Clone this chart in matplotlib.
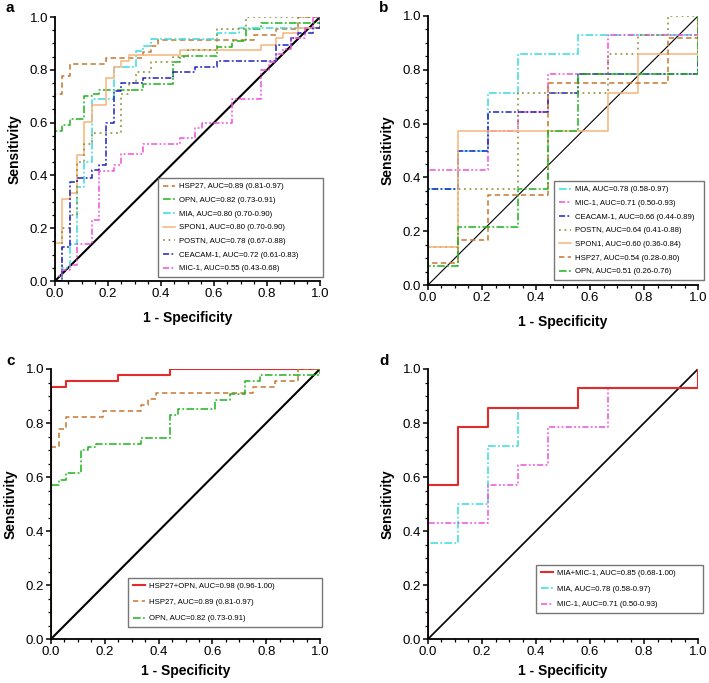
import matplotlib
matplotlib.use('Agg')
import matplotlib.pyplot as plt
from matplotlib.ticker import MultipleLocator

plt.rcParams['font.family'] = ['Liberation Sans', 'DejaVu Sans']

# ROC corner points (1 - specificity, sensitivity), drawn as post steps
# panel a / c (training set)
hsp27_x = [0, 0, 0.028, 0.056, 0.194, 0.333, 0.361, 0.389, 0.75, 0.833, 0.917, 1.0]
hsp27_y = [0, 0.71, 0.777, 0.823, 0.844, 0.866, 0.889, 0.911, 0.932, 0.955, 1.0, 1.0]
opn_x = [0, 0, 0.028, 0.056, 0.111, 0.139, 0.167, 0.333, 0.444, 0.472, 0.611, 0.667, 0.722, 0.778, 1.0]
opn_y = [0, 0.57, 0.59, 0.614, 0.70, 0.71, 0.722, 0.745, 0.83, 0.852, 0.886, 0.909, 0.955, 0.977, 1.0]
mia_x = [0, 0.028, 0.056, 0.083, 0.111, 0.139, 0.222, 0.306, 0.333, 0.361, 0.611, 0.694, 1.0]
mia_y = [0, 0.05, 0.14, 0.356, 0.45, 0.69, 0.81, 0.87, 0.89, 0.917, 0.94, 0.96, 1.0]
spon1_x = [0, 0, 0.028, 0.056, 0.083, 0.111, 0.139, 0.194, 0.222, 0.25, 0.278, 0.472, 0.778, 0.833, 0.861, 0.917, 1.0]
spon1_y = [0, 0.143, 0.312, 0.333, 0.479, 0.602, 0.665, 0.77, 0.81, 0.833, 0.855, 0.875, 0.895, 0.92, 0.94, 0.96, 1.0]
postn_x = [0, 0.028, 0.056, 0.083, 0.111, 0.139, 0.25, 0.278, 0.306, 0.361, 0.444, 0.5, 0.611, 0.722, 1.0]
postn_y = [0, 0.2, 0.25, 0.45, 0.52, 0.56, 0.71, 0.75, 0.79, 0.83, 0.85, 0.875, 0.955, 1.0, 1.0]
ceacam_x = [0, 0.028, 0.056, 0.083, 0.139, 0.167, 0.194, 0.222, 0.25, 0.333, 0.444, 0.528, 0.611, 0.833, 0.889, 0.917, 0.972, 1.0]
ceacam_y = [0, 0.13, 0.375, 0.39, 0.42, 0.44, 0.60, 0.72, 0.75, 0.77, 0.79, 0.81, 0.833, 0.895, 0.92, 0.94, 0.96, 1.0]
mic1_x = [0, 0, 0.028, 0.056, 0.083, 0.139, 0.167, 0.222, 0.25, 0.333, 0.472, 0.528, 0.556, 0.667, 0.778, 0.806, 0.833, 0.861, 0.889, 0.944, 0.972, 1.0]
mic1_y = [0, 0.02, 0.04, 0.06, 0.14, 0.23, 0.417, 0.44, 0.48, 0.52, 0.54, 0.58, 0.6, 0.69, 0.8, 0.83, 0.86, 0.88, 0.92, 0.96, 1.0, 1.0]
combo_c_x = [0, 0, 0.056, 0.25, 0.444, 1.0]
combo_c_y = [0, 0.932, 0.955, 0.977, 1.0, 1.0]

# panel b / d (validation set)
mia_b_x = [0, 0, 0.111, 0.222, 0.333, 0.556, 1.0]
mia_b_y = [0, 0.357, 0.5, 0.714, 0.857, 0.929, 1.0]
mic1_b_x = [0, 0, 0.222, 0.333, 0.444, 0.667, 1.0]
mic1_b_y = [0, 0.429, 0.571, 0.643, 0.786, 0.929, 1.0]
ceacam_b_x = [0, 0, 0.111, 0.222, 0.444, 0.556, 1.0]
ceacam_b_y = [0, 0.357, 0.5, 0.643, 0.714, 0.786, 1.0]
postn_b_x = [0, 0, 0.111, 0.333, 0.667, 0.778, 0.889, 1.0]
postn_b_y = [0, 0.143, 0.357, 0.714, 0.857, 0.929, 1.0, 1.0]
spon1_b_x = [0, 0, 0.111, 0.667, 0.778, 1.0]
spon1_b_y = [0, 0.143, 0.571, 0.714, 0.857, 1.0]
hsp27_b_x = [0, 0, 0.111, 0.222, 0.444, 0.889, 1.0]
hsp27_b_y = [0, 0.083, 0.167, 0.333, 0.75, 0.917, 1.0]
opn_b_x = [0, 0, 0.111, 0.333, 0.444, 0.556, 1.0]
opn_b_y = [0, 0.071, 0.214, 0.357, 0.571, 0.786, 1.0]
combo_d_x = [0, 0, 0.111, 0.222, 0.556, 1.0]
combo_d_y = [0, 0.571, 0.786, 0.857, 0.929, 1.0]

# styles
sty = {
    'HSP27': dict(color='#C8762E', dashes=(3.5, 2.2)),
    'OPN': dict(color='#1DB31D', dashes=(5, 1.5, 1.2, 1.5)),
    'MIA': dict(color='#38DDDD', dashes=(5, 1.5, 1.2, 1.5)),
    'SPON1': dict(color='#F6B479', linestyle='-'),
    'POSTN': dict(color='#8C8C2A', dashes=(1.2, 2.4)),
    'CEACAM-1': dict(color='#2020C0', dashes=(4, 1.5, 1.2, 1.5)),
    'MIC-1': dict(color='#F050D8', dashes=(4, 1.5, 1.2, 1.5, 1.2, 1.5)),
    'combo': dict(color='#E32B2B', linestyle='-'),
}

fig = plt.figure(figsize=(7.09, 6.83), dpi=100)
W, H = 709, 683


def make_ax(x0, x1, ytop, ybot, letter, lx, ly, xpad=8):
    ax = fig.add_axes([x0 / W, (H - ybot) / H, (x1 - x0) / W, (ybot - ytop) / H])
    ax.set_xlim(0, 1)
    ax.set_ylim(0, 1)
    for s in ['top', 'right']:
        ax.spines[s].set_visible(False)
    for s in ['left', 'bottom']:
        ax.spines[s].set_linewidth(1.3)
    ax.xaxis.set_major_locator(MultipleLocator(0.2))
    ax.yaxis.set_major_locator(MultipleLocator(0.2))
    ax.xaxis.set_minor_locator(MultipleLocator(0.05))
    ax.yaxis.set_minor_locator(MultipleLocator(0.05))
    ax.xaxis.set_major_formatter(plt.FormatStrFormatter('%.1f'))
    ax.yaxis.set_major_formatter(plt.FormatStrFormatter('%.1f'))
    ax.tick_params(which='major', direction='out', length=3.5, width=1.1, labelsize=9.5, pad=1.5)
    ax.tick_params(which='minor', direction='out', length=2, width=0.9)
    ax.set_xlabel('1 - Specificity', fontsize=10, fontweight='bold', labelpad=xpad)
    ax.set_ylabel('Sensitivity', fontsize=10, fontweight='bold', labelpad=6)
    fig.text(lx / W, 1 - ly / H, letter, fontsize=11, fontweight='bold', ha='center', va='center')
    return ax


def curve(ax, x, y, key, label, lw=1.1):
    ax.plot(x, y, drawstyle='steps-post', linewidth=lw, label=label, **sty[key])


def legend(ax, x0, y0, w, spacing, handles=None, labels=None):
    if handles is None:
        handles, labels = ax.get_legend_handles_labels()
    leg = ax.legend(handles, labels, loc='lower left', bbox_to_anchor=(x0, y0, w, 0.3),
                    mode='expand', fontsize=5.6, frameon=True, fancybox=False,
                    borderaxespad=0, handlelength=1.6, handletextpad=0.5,
                    labelspacing=spacing, borderpad=0.6)
    leg.get_frame().set_edgecolor('#555555')
    leg.get_frame().set_linewidth(1.0)


# panel a
ax = make_ax(55, 320, 17, 281, 'a', 10, 8)
ax.plot([0, 1], [0, 1], color='black', linewidth=1.5)
curve(ax, hsp27_x, hsp27_y, 'HSP27', 'HSP27, AUC=0.89 (0.81-0.97)')
curve(ax, opn_x, opn_y, 'OPN', 'OPN, AUC=0.82 (0.73-0.91)')
curve(ax, mia_x, mia_y, 'MIA', 'MIA, AUC=0.80 (0.70-0.90)')
curve(ax, spon1_x, spon1_y, 'SPON1', 'SPON1, AUC=0.80 (0.70-0.90)')
curve(ax, postn_x, postn_y, 'POSTN', 'POSTN, AUC=0.78 (0.67-0.88)')
curve(ax, ceacam_x, ceacam_y, 'CEACAM-1', 'CEACAM-1, AUC=0.72 (0.61-0.83)')
curve(ax, mic1_x, mic1_y, 'MIC-1', 'MIC-1, AUC=0.55 (0.43-0.68)')
legend(ax, 0.39, 0.015, 0.62, 0.8)

# panel b
ax = make_ax(428, 698, 16, 285, 'b', 384, 8)
ax.plot([0, 1], [0, 1], color='black', linewidth=0.8)
curve(ax, mia_b_x, mia_b_y, 'MIA', 'MIA, AUC=0.78 (0.58-0.97)')
curve(ax, mic1_b_x, mic1_b_y, 'MIC-1', 'MIC-1, AUC=0.71 (0.50-0.93)')
curve(ax, ceacam_b_x, ceacam_b_y, 'CEACAM-1', 'CEACAM-1, AUC=0.66 (0.44-0.89)')
curve(ax, postn_b_x, postn_b_y, 'POSTN', 'POSTN, AUC=0.64 (0.41-0.88)')
curve(ax, spon1_b_x, spon1_b_y, 'SPON1', 'SPON1, AUC=0.60 (0.36-0.84)')
curve(ax, hsp27_b_x, hsp27_b_y, 'HSP27', 'HSP27, AUC=0.54 (0.28-0.80)')
curve(ax, opn_b_x, opn_b_y, 'OPN', 'OPN, AUC=0.51 (0.26-0.76)')
legend(ax, 0.467, 0.019, 0.555, 0.8)

# panel c
ax = make_ax(51, 320, 369, 639, 'c', 11, 361, xpad=4)
ax.plot([0, 1], [0, 1], color='black', linewidth=1.5)
curve(ax, combo_c_x, combo_c_y, 'combo', 'HSP27+OPN, AUC=0.98 (0.96-1.00)', lw=1.5)
curve(ax, hsp27_x, hsp27_y, 'HSP27', 'HSP27, AUC=0.89 (0.81-0.97)')
curve(ax, opn_x, opn_y, 'OPN', 'OPN, AUC=0.82 (0.73-0.91)')
legend(ax, 0.286, 0.044, 0.72, 1.15)

# panel d
ax = make_ax(428, 698, 369, 639, 'd', 384, 361, xpad=4)
ax.plot([0, 1], [0, 1], color='black', linewidth=1.2)
curve(ax, mia_b_x, mia_b_y, 'MIA', 'MIA, AUC=0.78 (0.58-0.97)')
curve(ax, mic1_b_x, mic1_b_y, 'MIC-1', 'MIC-1, AUC=0.71 (0.50-0.93)')
curve(ax, combo_d_x, combo_d_y, 'combo', 'MIA+MIC-1, AUC=0.85 (0.68-1.00)', lw=1.5)
h, l = ax.get_legend_handles_labels()
order = [2, 0, 1]
legend(ax, 0.4, 0.096, 0.62, 1.05, [h[i] for i in order], [l[i] for i in order])

fig.savefig('out.png', dpi=100)
